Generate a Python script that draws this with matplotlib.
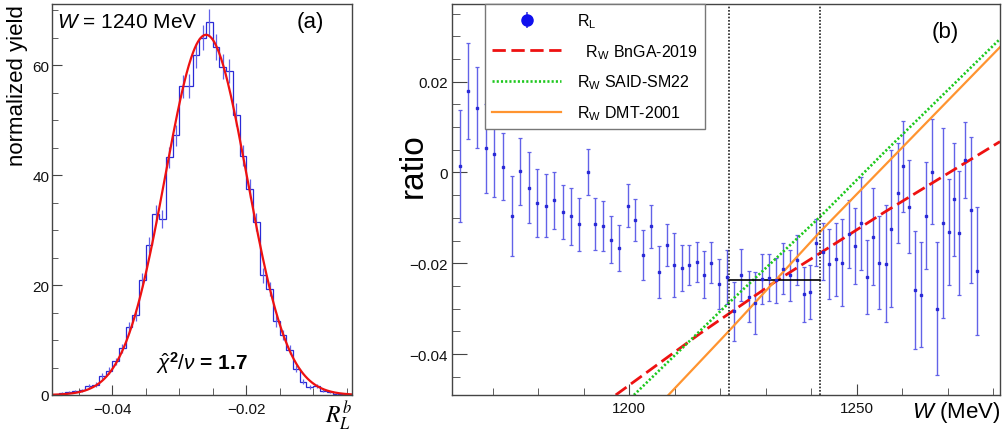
import numpy as np
import matplotlib
matplotlib.use("Agg")
import matplotlib.pyplot as plt
from matplotlib.ticker import MultipleLocator, FuncFormatter

plt.rcParams['font.family'] = ['Liberation Sans', 'DejaVu Sans']
plt.rcParams['mathtext.fontset'] = 'custom'
plt.rcParams['mathtext.rm'] = 'Liberation Sans'
plt.rcParams['mathtext.it'] = 'Liberation Sans:italic'
plt.rcParams['mathtext.bf'] = 'Liberation Sans:bold'

# ---------------- panel (a): R_L^b distribution at W = 1240 MeV ----------------
BIN_LO = -0.048          # lower edge of the first bin
BIN_WIDTH = 0.001
YIELD = [0.3, 0.5, 0.7, 0.9, 1.7, 1.9, 3.5, 4.4, 6.1, 8.5,
         12.3, 14.5, 20.9, 27.3, 32.9, 32.0, 43.2, 47.2, 56.1, 56.2,
         61.8, 65.0, 67.8, 63.3, 59.7, 58.9, 51.0, 43.5, 37.5, 31.4,
         21.8, 19.3, 13.5, 10.9, 8.2, 4.8, 2.4, 1.4, 1.7, 0.8,
         0.5, 0.2, 0.1]
N_EVENTS = 12000         # entries behind the normalised histogram
FIT_AMP = 65.5
FIT_MEAN = -0.0260
FIT_SIGMA = 0.0061
CHI2_NDF = 1.7

# ---------------- panel (b): ratio vs W ----------------
W_MEV = [1162.8, 1164.6, 1166.4, 1168.4, 1170.3, 1172.3, 1174.1, 1176.0, 1177.9, 1179.8,
         1181.6, 1183.4, 1185.4, 1187.1, 1188.9, 1190.8, 1192.5, 1194.3, 1196.0, 1197.8,
         1199.6, 1201.3, 1203.1, 1204.8, 1206.5, 1208.2, 1209.8, 1211.6, 1213.2, 1214.8,
         1216.4, 1218.0, 1219.7, 1221.4, 1223.0, 1224.5, 1226.2, 1227.7, 1229.2, 1230.8,
         1232.3, 1233.7, 1235.3, 1236.8, 1238.3, 1239.7, 1241.1, 1242.5, 1244.0, 1245.4,
         1246.8, 1248.2, 1249.6, 1251.0, 1252.3, 1253.6, 1255.0, 1256.4, 1257.6, 1259.0,
         1260.2, 1261.5, 1262.8, 1264.1, 1265.3, 1266.5, 1267.7, 1269.0, 1270.2, 1271.3,
         1272.5, 1273.8, 1275.1, 1276.4]
RATIO = [0.00146, 0.01799, 0.01424, 0.00529, 0.00404, 0.00123, -0.00957, 0.00022, -0.00331, -0.00670,
         -0.00736, -0.00611, -0.00869, -0.00964, -0.01140, 0.00007, -0.01140, -0.01184, -0.01477, -0.01663,
         -0.00736, -0.01045, -0.01824, -0.01184, -0.02192, -0.01603, -0.02037, -0.02104, -0.02037, -0.01962,
         -0.02249, -0.01985, -0.02463, -0.02302, -0.03058, -0.02265, -0.02734, -0.02882, -0.02353, -0.02315,
         -0.02375, -0.02117, -0.02265, -0.01927, -0.02684, -0.02624, -0.01544, -0.01742, -0.02022, -0.01912,
         -0.01985, -0.01360, -0.01618, -0.01118, -0.02302, -0.01411, -0.01985, -0.02007, -0.01235, -0.00456,
         0.00132, -0.00750, -0.02589, -0.02690, -0.00948, 0.00013, -0.02999, -0.01103, -0.01310, -0.00589,
         -0.01338, 0.00278, -0.00825, -0.02176]
RATIO_ERR = [0.01238, 0.01058, 0.00893, 0.00986, 0.00948, 0.00739, 0.00889, 0.00735, 0.00787, 0.00743,
             0.00695, 0.00632, 0.00603, 0.00633, 0.00584, 0.00507, 0.00577, 0.00551, 0.00521, 0.00496,
             0.00474, 0.00460, 0.00548, 0.00478, 0.00573, 0.00459, 0.00699, 0.00504, 0.00449, 0.00441,
             0.00515, 0.00449, 0.00548, 0.00584, 0.00643, 0.00573, 0.00556, 0.00680, 0.00551, 0.00525,
             0.00496, 0.00562, 0.00566, 0.00555, 0.00606, 0.00595, 0.00521, 0.00633, 0.00772, 0.00805,
             0.00963, 0.00750, 0.00827, 0.01025, 0.00819, 0.01063, 0.01022, 0.01293, 0.01720, 0.01099,
             0.01003, 0.01022, 0.01293, 0.01150, 0.01172, 0.01158, 0.01466, 0.02091, 0.01158, 0.01241,
             0.01364, 0.00830, 0.01617, 0.01411]

# model curves
BNGA_W = [1197.0, 1215.5, 1232.3, 1256.0, 1281.5]
BNGA_R = [-0.0490, -0.0355, -0.0239, -0.0088, 0.0068]
SAID_W = [1201.0, 1221.9, 1241.9, 1256.0, 1281.5]
SAID_R = [-0.0490, -0.0287, -0.0098, 0.0044, 0.0294]
DMT_W = [1208.6, 1221.9, 1241.9, 1281.5]
DMT_R = [-0.0490, -0.0349, -0.0131, 0.0276]

# averaging window and its mean
WINDOW_W = [1221.9, 1241.9]
WINDOW_MEAN = -0.0237

BLUE = '#2a2ad6'
BLUE_ERR = '#6262e8'
FRAME = '#444444'


def minus_fmt(v, pos):
    s = '%g' % round(v, 6)
    return s.replace('-', '\u2212')


def style_axes(ax):
    for sp in ax.spines.values():
        sp.set_color(FRAME)
        sp.set_linewidth(1.0)
    ax.tick_params(which='both', direction='in', top=False, right=False,
                   color=FRAME, labelsize=11, labelcolor='#111111')


fig = plt.figure(figsize=(10.03, 4.31), dpi=100)

# ---- (a) ----
ax1 = fig.add_axes([52 / 1003, 35 / 431, 300 / 1003, 391 / 431])
edges = BIN_LO + BIN_WIDTH * np.arange(len(YIELD) + 1)
centers = 0.5 * (edges[:-1] + edges[1:])
yld = np.array(YIELD)
yerr = np.sqrt(yld / (N_EVENTS * BIN_WIDTH))
ax1.stairs(yld, edges, color=BLUE, lw=0.9)
ax1.errorbar(centers, yld, yerr=yerr, fmt='none', ecolor=BLUE_ERR, elinewidth=0.9)
xf = np.linspace(-0.049, -0.0042, 400)
ax1.plot(xf, FIT_AMP * np.exp(-0.5 * ((xf - FIT_MEAN) / FIT_SIGMA) ** 2),
         color='#ee1111', lw=1.6)
ax1.set_xlim(-0.049, -0.0042)
ax1.set_ylim(0, 71.1)
ax1.xaxis.set_major_locator(MultipleLocator(0.02))
ax1.xaxis.set_minor_locator(MultipleLocator(0.005))
ax1.yaxis.set_major_locator(MultipleLocator(20))
ax1.yaxis.set_minor_locator(MultipleLocator(5))
ax1.xaxis.set_major_formatter(FuncFormatter(minus_fmt))
style_axes(ax1)
ax1.tick_params(axis='x', which='major', length=7, pad=5)
ax1.tick_params(axis='x', which='minor', length=5)
ax1.tick_params(axis='y', which='major', length=7, pad=2)
ax1.tick_params(axis='y', which='minor', length=4)

ax1.text(0.018, 0.955, '$W$ = 1240 MeV', transform=ax1.transAxes,
         fontsize=15, ha='left', va='center')
ax1.text(0.86, 0.955, '(a)', transform=ax1.transAxes, fontsize=16,
         ha='center', va='center')
ax1.text(0.5, 0.085, r'$\hat{\chi}^\mathbf{2}/\nu$ = %.1f' % CHI2_NDF,
         transform=ax1.transAxes, fontsize=15, fontweight='bold',
         ha='center', va='center')
fig.text(18 / 1003, 1 - 5 / 431, 'normalized yield', rotation=90,
         fontsize=16, ha='center', va='top')
fig.text(352 / 1003, 1 - 416 / 431, r'$R_L^b$', fontsize=17,
         ha='right', va='center', math_fontfamily='stix')

# ---- (b) ----
ax2 = fig.add_axes([452 / 1003, 35 / 431, 548 / 1003, 391 / 431])
ax2.errorbar(W_MEV, RATIO, yerr=RATIO_ERR, fmt='s', ms=1.6, color=BLUE,
             ecolor=BLUE_ERR, elinewidth=1.0, capsize=1.6, capthick=0.9)
l_bnga, = ax2.plot(BNGA_W, BNGA_R, color='#ee1111', lw=2.0,
                   dashes=(4.8, 2.0))
l_said, = ax2.plot(SAID_W, SAID_R, color='#1ec81e', lw=1.9,
                   dashes=(0.8, 0.8))
l_dmt, = ax2.plot(DMT_W, DMT_R, color='#ff9430', lw=1.6)
for w in WINDOW_W:
    ax2.axvline(w, color='#222222', lw=1.2, ls=(0, (1.0, 1.0)))
ax2.plot(WINDOW_W, [WINDOW_MEAN, WINDOW_MEAN], color='black', lw=1.2)

ax2.set_xlim(1161.0, 1281.5)
ax2.set_ylim(-0.049, 0.0371)
ax2.xaxis.set_major_locator(MultipleLocator(50))
ax2.xaxis.set_minor_locator(MultipleLocator(10))
ax2.yaxis.set_major_locator(MultipleLocator(0.02))
ax2.yaxis.set_minor_locator(MultipleLocator(0.005))
ax2.yaxis.set_major_formatter(FuncFormatter(minus_fmt))
style_axes(ax2)
ax2.tick_params(axis='x', which='major', length=8, pad=4)
ax2.tick_params(axis='x', which='minor', length=5)
ax2.tick_params(axis='y', which='major', length=11, pad=3)
ax2.tick_params(axis='y', which='minor', length=6)

ax2.text(0.9, 0.93, '(b)', transform=ax2.transAxes, fontsize=16,
         ha='center', va='center')
fig.text(413 / 1003, 1 - 166 / 431, 'ratio', rotation=90, fontsize=24,
         ha='center', va='center')
fig.text(1000 / 1003, 1 - 413 / 431, '$W$ (MeV)', fontsize=16,
         ha='right', va='center')

rl_proxy = ax2.errorbar([np.nan], [np.nan], yerr=[np.nan], fmt='o', ms=8,
                        color='#1010ee', ecolor='#4040e0', elinewidth=1.2)
leg = ax2.legend([rl_proxy, l_bnga, l_said, l_dmt],
                 [r'$\mathregular{R_L}$',
                  r'  $\mathregular{R_W}$ BnGA-2019',
                  r'$\mathregular{R_W}$ SAID-SM22',
                  r'$\mathregular{R_W}$ DMT-2001'],
                 loc='upper left', bbox_to_anchor=(0.0602, 1.0),
                 borderaxespad=0, fontsize=11.5, handlelength=4.3,
                 labelspacing=0.75, handletextpad=1.0, borderpad=0.45,
                 fancybox=False, framealpha=1, edgecolor='#777777',
                 alignment='left')
leg.get_frame().set_linewidth(1.0)

fig.savefig('out.png', dpi=100)
